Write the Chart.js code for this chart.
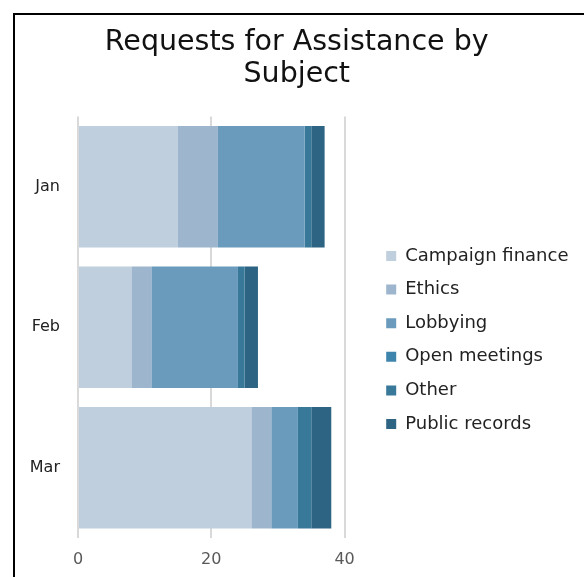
<!DOCTYPE html>
<html>
<head>
<meta charset="utf-8">
<script src="https://cdn.jsdelivr.net/npm/chart.js@4/dist/chart.umd.min.js"></script>
<style>
    body { margin: 0; background: #fff; }
    #frame {
        position: absolute;
        left: 13px;
        top: 13px;
        width: 569px;
        height: 562px;
        border-left: 2px solid #000;
        border-top: 2px solid #000;
    }
</style>
</head>
<body>
<div id="frame"><canvas id="myChart" width="569" height="562"></canvas></div>
<script>
// values
const months = ['Jan', 'Feb', 'Mar'];
const subjects = ['Campaign finance', 'Ethics', 'Lobbying', 'Open meetings', 'Other', 'Public records'];
const campaignFinance = [15, 8, 26];
const ethics = [6, 3, 3];
const lobbying = [13, 13, 4];
const openMeetings = [0, 0, 0];
const other = [1, 1, 2];
const publicRecords = [2, 2, 3];
const xTicks = [0, 20, 40];

const colors = ['#bfcfde', '#9db6cd', '#6a9bbd', '#3e85ae', '#387899', '#2d6484'];
const series = [campaignFinance, ethics, lobbying, openMeetings, other, publicRecords];

const fontFamily = '"DejaVu Sans", sans-serif';

const config = {
    type: 'bar',
    data: {
        labels: months,
        datasets: subjects.map(function (name, i) {
            return {
                label: name,
                data: series[i],
                backgroundColor: colors[i],
                borderWidth: 0,
                barPercentage: 0.864,
                categoryPercentage: 1
            };
        })
    },
    options: {
        indexAxis: 'y',
        responsive: false,
        animation: false,
        layout: { padding: { top: 0, bottom: 0, right: 5.5, left: 0 } },
        scales: {
            x: {
                stacked: true,
                min: 0,
                max: 43.9,
                afterBuildTicks: function (axis) {
                    axis.ticks = xTicks.map(function (v) { return { value: v }; });
                },
                afterFit: function (axis) { axis.height = 39; },
                grid: { color: '#d9d9d9', lineWidth: 2, drawTicks: false, tickLength: 0 },
                border: { display: false },
                ticks: {
                    padding: 12,
                    color: '#595959',
                    font: { family: fontFamily, size: 16 }
                }
            },
            y: {
                stacked: true,
                afterFit: function (axis) { axis.width = 63; },
                grid: { display: false, drawTicks: false, tickLength: 0 },
                border: { display: false },
                ticks: {
                    padding: 18,
                    color: '#222',
                    font: { family: fontFamily, size: 16 }
                }
            }
        },
        plugins: {
            title: {
                display: true,
                text: ['Requests for Assistance by', 'Subject'],
                color: '#111',
                font: { family: fontFamily, size: 28.5, weight: 'normal', lineHeight: 1.13 },
                padding: { top: 11, bottom: 26 }
            },
            legend: {
                position: 'right',
                maxWidth: 260,
                title: {
                    display: true,
                    text: ' ',
                    font: { size: 10, lineHeight: 1 },
                    padding: { top: 78, bottom: 0 }
                },
                labels: {
                    boxWidth: 10,
                    boxHeight: 10,
                    padding: 15.6,
                    color: '#222',
                    font: { family: fontFamily, size: 18 }
                }
            },
            tooltip: { enabled: false }
        }
    }
};

const myChart = new Chart(
    document.getElementById('myChart'),
    config
);
</script>
</body>
</html>
